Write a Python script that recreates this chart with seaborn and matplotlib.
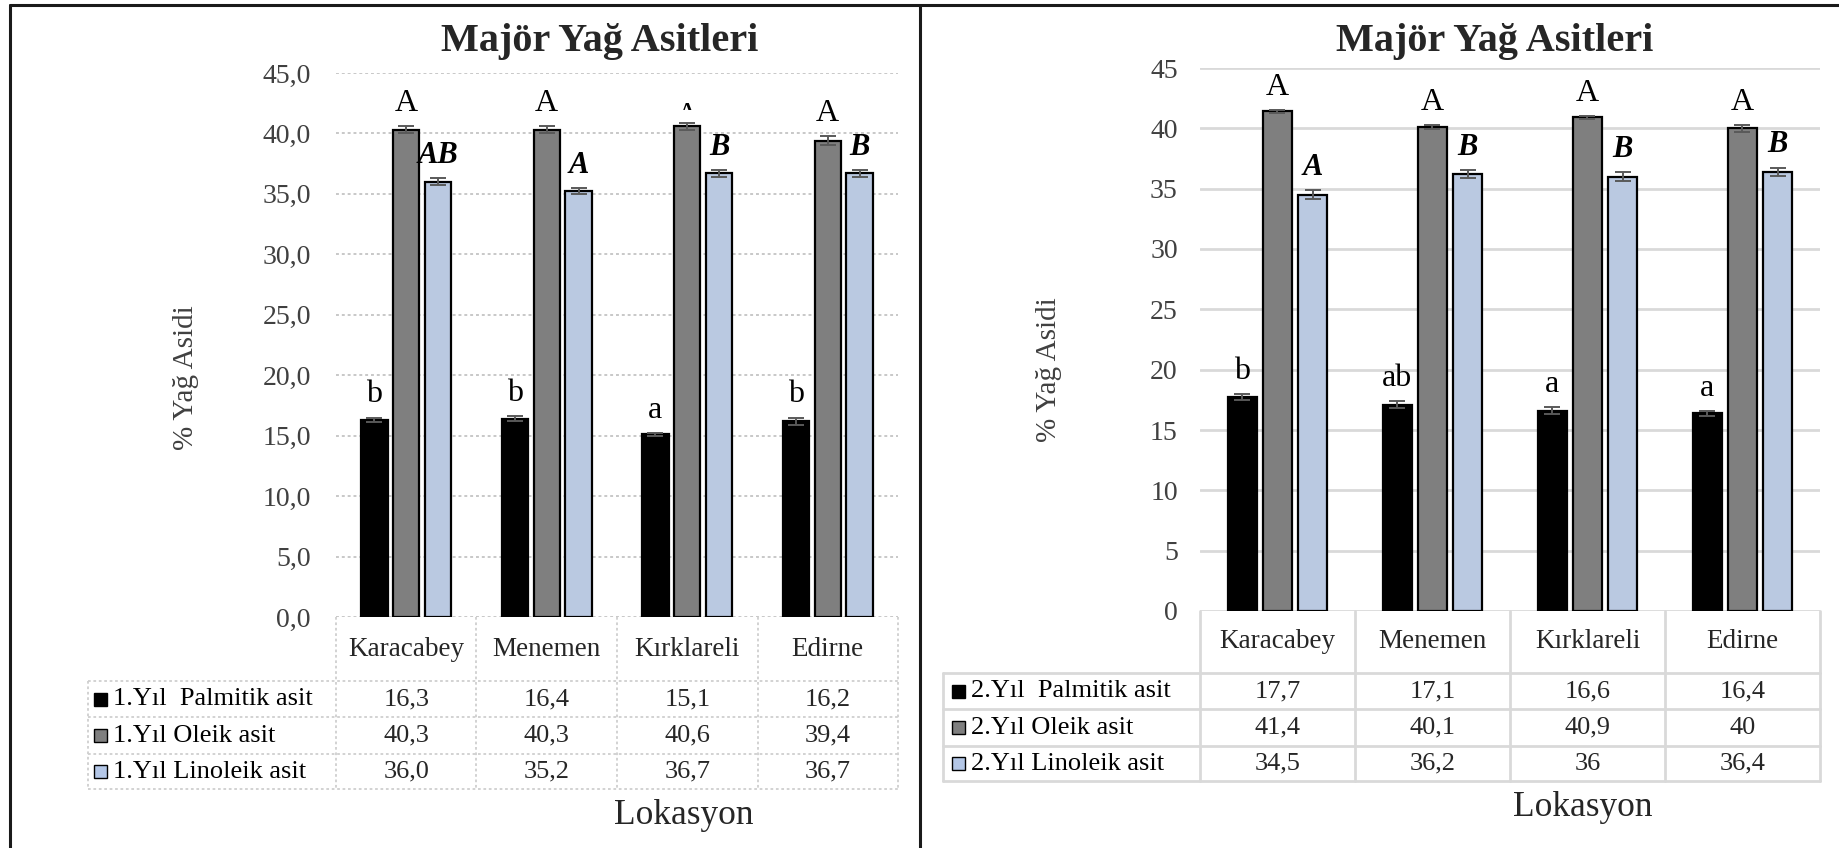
import numpy as np
import pandas as pd
import matplotlib
matplotlib.use("Agg")
import matplotlib.pyplot as plt
from matplotlib.patches import Rectangle
from matplotlib.lines import Line2D
from matplotlib.ticker import FuncFormatter, MultipleLocator
from matplotlib.transforms import blended_transform_factory
import seaborn as sns

# ---------------------------------------------------------------- data
lokasyonlar = ["Karacabey", "Menemen", "Kırklareli", "Edirne"]

yil1_seriler = ["1.Yıl  Palmitik asit", "1.Yıl Oleik asit", "1.Yıl Linoleik asit"]
yil1_palmitik = [16.3, 16.4, 15.1, 16.2]
yil1_oleik = [40.3, 40.3, 40.6, 39.4]
yil1_linoleik = [36.0, 35.2, 36.7, 36.7]
yil1_palmitik_se = [0.20, 0.20, 0.15, 0.30]
yil1_oleik_se = [0.30, 0.30, 0.30, 0.35]
yil1_linoleik_se = [0.30, 0.25, 0.30, 0.30]
yil1_palmitik_harf = ["b", "b", "a", "b"]
yil1_oleik_harf = ["A", "A", "A", "A"]
yil1_linoleik_harf = ["AB", "A", "B", "B"]

yil2_seriler = ["2.Yıl  Palmitik asit", "2.Yıl Oleik asit", "2.Yıl Linoleik asit"]
yil2_palmitik = [17.7, 17.1, 16.6, 16.4]
yil2_oleik = [41.4, 40.1, 40.9, 40.0]
yil2_linoleik = [34.5, 36.2, 36.0, 36.4]
yil2_palmitik_se = [0.25, 0.30, 0.30, 0.20]
yil2_oleik_se = [0.15, 0.15, 0.15, 0.30]
yil2_linoleik_se = [0.35, 0.35, 0.35, 0.35]
yil2_palmitik_harf = ["b", "ab", "a", "a"]
yil2_oleik_harf = ["A", "A", "A", "A"]
yil2_linoleik_harf = ["A", "B", "B", "B"]

renkler = ["#000000", "#7f7f7f", "#b4c7e7"]

baslik = "Majör Yağ Asitleri"
y_etiket = "% Yağ Asidi"
x_etiket = "Lokasyon"

# ---------------------------------------------------------------- figure
W, H, DPI = 1840, 848, 100
sns.set_theme(style="white")
plt.rcParams["font.family"] = ["Liberation Serif", "DejaVu Serif"]

fig = plt.figure(figsize=(W / DPI, H / DPI), dpi=DPI)
fig.patch.set_facecolor("white")


def fx(x):
    return x / W


def fy(y):
    return 1 - y / H


def cizgi(x0, y0, x1, y1, **kw):
    fig.add_artist(Line2D([fx(x0), fx(x1)], [fy(y0), fy(y1)],
                          transform=fig.transFigure, **kw))


def panel(lay, seriler, degerler, hatalar, harfler, tick_fmt, deger_fmt,
          grid_kw, tablo_kw, ortulu=None):
    L, T, R, B = lay["ax"]
    ax = fig.add_axes([fx(L), fy(B), (R - L) / W, (B - T) / H])
    df = pd.DataFrame({
        "Lokasyon": np.tile(lokasyonlar, len(seriler)),
        "Seri": np.repeat(seriler, len(lokasyonlar)),
        "Değer": np.concatenate(degerler),
    })
    sns.barplot(data=df, x="Lokasyon", y="Değer", hue="Seri",
                order=lokasyonlar, hue_order=seriler, palette=renkler,
                width=0.68, gap=0.17, edgecolor="black", linewidth=1.6,
                errorbar=None, legend=False, ax=ax, zorder=3)
    ax.set_xlim(-0.5, 3.5)
    ax.set_ylim(0, 45)
    ax.yaxis.set_major_locator(MultipleLocator(5))
    ax.yaxis.set_major_formatter(FuncFormatter(tick_fmt))
    ax.grid(axis="y", zorder=0, **grid_kw)
    ax.grid(axis="x", visible=False)
    ax.set_axisbelow(True)
    for s in ax.spines.values():
        s.set_visible(False)
    ax.tick_params(axis="y", length=0, labelsize=20, labelcolor="#404040",
                   pad=lay["pad"])
    ax.tick_params(axis="x", length=0, labelbottom=False)
    ax.set_xlabel("")
    ax.set_ylabel("")

    # error bars and significance letters on top of each bar
    bars = sorted(ax.patches, key=lambda p: p.get_x())
    n = len(seriler)
    for k, p in enumerate(bars):
        i, j = divmod(k, n)
        xc = p.get_x() + p.get_width() / 2
        h = p.get_height()
        e = hatalar[j][i]
        ax.errorbar(xc, h, yerr=e, fmt="none", ecolor="#595959",
                    elinewidth=1.4, capsize=6, capthick=1.4, zorder=4)
        kw = dict(fontsize=23, color="black")
        if j == 2:
            kw.update(fontweight="bold", fontstyle="italic", fontsize=22)
        yb = h + e + 1.25
        t = ax.text(xc, yb, harfler[j][i], ha="center", va="baseline",
                    zorder=5, **kw)
        if ortulu is not None and (j, i) == ortulu[0]:
            # label partly hidden behind the chart body: only its apex shows
            t.set_position((xc, h + 0.15))
            clip = Rectangle((xc - 0.5, ortulu[1]), 1.0, 10,
                             transform=ax.transData)
            t.set_clip_on(True)
            t.set_clip_path(clip)

    # data table below the axis
    tb = lay["tablo"]
    cat_bot = tb["kat_alt"]
    satirlar = tb["satirlar"]
    leg_x = tb["sol"]
    colw = (R - L) / len(lokasyonlar)
    alt = satirlar[-1]
    for k in range(len(lokasyonlar) + 1):
        cizgi(L + k * colw, B, L + k * colw, alt, **tablo_kw)
    cizgi(leg_x, cat_bot, leg_x, alt, **tablo_kw)
    for yy in [cat_bot] + satirlar:
        cizgi(leg_x, yy, R, yy, **tablo_kw)

    tr = blended_transform_factory(ax.transData, fig.transFigure)
    for i, lok in enumerate(lokasyonlar):
        fig.text(i, fy((B + cat_bot) / 2), lok, transform=tr,
                 ha="center", va="center", fontsize=19.5, color="#262626")
    ust = cat_bot
    for j, (seri, vals) in enumerate(zip(seriler, degerler)):
        yc = (ust + satirlar[j]) / 2
        for i, v in enumerate(vals):
            fig.text(i, fy(yc), deger_fmt(v), transform=tr,
                     ha="center", va="center", fontsize=19, color="#262626")
        ks = 13
        fig.add_artist(Rectangle((fx(tb["anahtar"]), fy(yc + ks / 2)),
                                 ks / W, ks / H, transform=fig.transFigure,
                                 facecolor=renkler[j], edgecolor="black", lw=1.0))
        fig.text(fx(tb["anahtar"] + ks + 6), fy(yc), seri, ha="left",
                 va="center", fontsize=19, color="black")
        ust = satirlar[j]

    fig.text(fx(lay["baslik"][0]), fy(lay["baslik"][1]), baslik,
             ha="center", va="center", fontsize=29, fontweight="bold")
    fig.text(fx(lay["yl"][0]), fy(lay["yl"][1]), y_etiket, rotation=90,
             ha="center", va="center", fontsize=21, color="#404040")
    fig.text(fx(lay["xl"][0]), fy(lay["xl"][1]), x_etiket,
             ha="center", va="center", fontsize=25.5, color="#262626")
    return ax


sol_duzen = {
    "ax": (336, 73, 898, 617),
    "pad": 18,
    "tablo": {"kat_alt": 681, "satirlar": [717, 754, 789], "sol": 88, "anahtar": 94},
    "baslik": (600, 41),
    "yl": (186, 378),
    "xl": (684, 816),
}
sag_duzen = {
    "ax": (1200, 68, 1820, 611),
    "pad": 16,
    "tablo": {"kat_alt": 673, "satirlar": [709, 746, 781], "sol": 943, "anahtar": 952},
    "baslik": (1495, 41),
    "yl": (1049, 370),
    "xl": (1583, 807),
}

panel(sol_duzen, yil1_seriler,
      [yil1_palmitik, yil1_oleik, yil1_linoleik],
      [yil1_palmitik_se, yil1_oleik_se, yil1_linoleik_se],
      [yil1_palmitik_harf, yil1_oleik_harf, yil1_linoleik_harf],
      lambda v, _: f"{v:.1f}".replace(".", ","),
      lambda v: f"{v:.1f}".replace(".", ","),
      dict(color="#c8c8c8", lw=1.4, ls=(0, (1.5, 1.5))),
      dict(color="#cfcfcf", lw=1.3, ls=(0, (1.5, 1.5))),
      ortulu=((1, 2), 41.95))

panel(sag_duzen, yil2_seriler,
      [yil2_palmitik, yil2_oleik, yil2_linoleik],
      [yil2_palmitik_se, yil2_oleik_se, yil2_linoleik_se],
      [yil2_palmitik_harf, yil2_oleik_harf, yil2_linoleik_harf],
      lambda v, _: f"{v:g}",
      lambda v: f"{v:g}".replace(".", ","),
      dict(color="#d9d9d9", lw=2.0, ls="-"),
      dict(color="#d9d9d9", lw=2.0, ls="-"))

# frame around the two panels
cizgi(10, 5, 1840, 5, color="#1a1a1a", lw=2.2)
cizgi(10, 5, 10, 848, color="#1a1a1a", lw=2.2)
cizgi(920, 5, 920, 848, color="#1a1a1a", lw=2.2)

fig.savefig("out.png", dpi=DPI, facecolor="white")
